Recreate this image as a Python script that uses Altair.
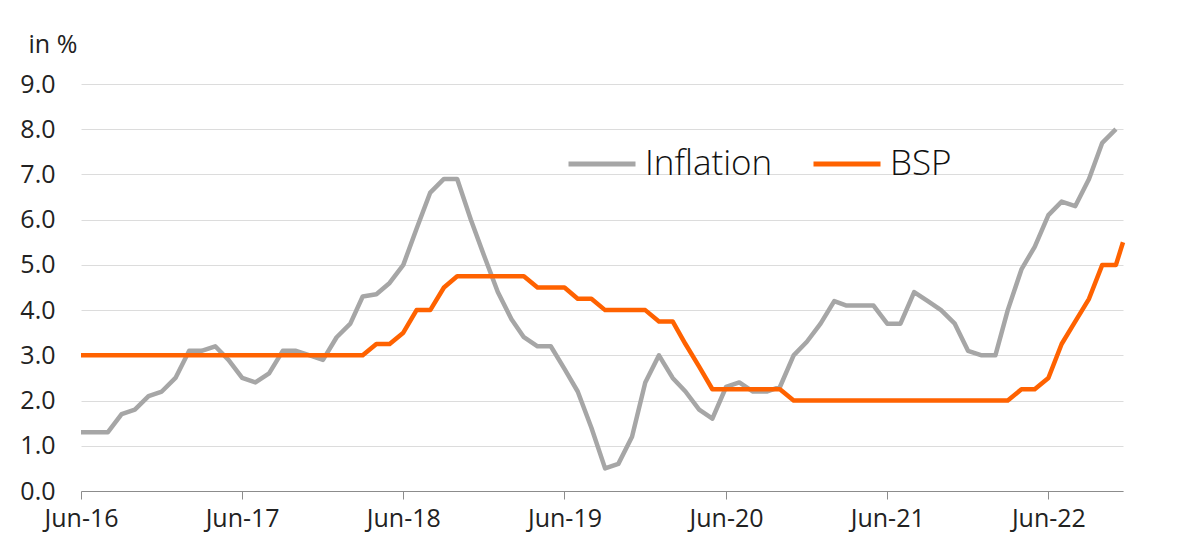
import altair as alt
import pandas as pd

# Monthly observations Jun-2016 .. Nov-2022
start_month = "2016-06-01"
n_months = 78

inflation = [
    1.3, 1.3, 1.3, 1.7, 1.8, 2.1, 2.2,            # Jun-16 .. Dec-16
    2.5, 3.1, 3.1, 3.2, 2.9, 2.5, 2.4, 2.6, 3.1, 3.1, 3.0, 2.9,   # 2017
    3.4, 3.7, 4.3, 4.35, 4.6, 5.0, 5.8, 6.6, 6.9, 6.9, 6.0, 5.2,  # 2018
    4.4, 3.8, 3.4, 3.2, 3.2, 2.7, 2.2, 1.4, 0.5, 0.6, 1.2, 2.4,   # 2019
    3.0, 2.5, 2.2, 1.8, 1.6, 2.3, 2.4, 2.2, 2.2, 2.3, 3.0, 3.3,   # 2020
    3.7, 4.2, 4.1, 4.1, 4.1, 3.7, 3.7, 4.4, 4.2, 4.0, 3.7, 3.1,   # 2021
    3.0, 3.0, 4.0, 4.9, 5.4, 6.1, 6.4, 6.3, 6.9, 7.7, 8.0,        # Jan-22 .. Nov-22
]

bsp = [
    3.0, 3.0, 3.0, 3.0, 3.0, 3.0, 3.0,
    3.0, 3.0, 3.0, 3.0, 3.0, 3.0, 3.0, 3.0, 3.0, 3.0, 3.0, 3.0,
    3.0, 3.0, 3.0, 3.25, 3.25, 3.5, 4.0, 4.0, 4.5, 4.75, 4.75, 4.75,
    4.75, 4.75, 4.75, 4.5, 4.5, 4.5, 4.25, 4.25, 4.0, 4.0, 4.0, 4.0,
    3.75, 3.75, 3.25, 2.75, 2.25, 2.25, 2.25, 2.25, 2.25, 2.25, 2.0, 2.0,
    2.0, 2.0, 2.0, 2.0, 2.0, 2.0, 2.0, 2.0, 2.0, 2.0, 2.0, 2.0,
    2.0, 2.0, 2.0, 2.25, 2.25, 2.5, 3.25, 3.75, 4.25, 5.0, 5.0,
]
bsp_last_date = "2022-11-17"
bsp_last_value = 5.5

x_tick_dates = ["2016-06-01", "2017-06-01", "2018-06-01", "2019-06-01",
                "2020-06-01", "2021-06-01", "2022-06-01"]
y_ticks = [0, 1, 2, 3, 4, 5, 6, 7, 8, 9]
x_end = "2022-11-17"

series_names = ["Inflation", "BSP"]
series_colors = ["#a6a6a6", "#ff6200"]

months = pd.date_range(start_month, periods=n_months, freq="MS")
df_inf = pd.DataFrame({"date": months, "value": inflation, "series": "Inflation"})
df_bsp = pd.DataFrame({
    "date": list(months) + [pd.Timestamp(bsp_last_date)],
    "value": bsp + [bsp_last_value],
    "series": "BSP",
})
df = pd.concat([df_inf, df_bsp], ignore_index=True)
df["date"] = df["date"].dt.strftime("%Y-%m-%dT%H:%M:%S")


def to_dt(s):
    t = pd.Timestamp(s)
    return alt.DateTime(year=t.year, month=t.month, date=t.day)


FONT = "Open Sans"

x_enc = alt.X(
    "date:T",
    scale=alt.Scale(domain=[to_dt(start_month), to_dt(x_end)]),
    axis=alt.Axis(
        values=[to_dt(d) for d in x_tick_dates],
        format="%b-%y",
        title=None,
        grid=False,
        domainColor="#8c8c8c",
        domainWidth=1,
        tickColor="#8c8c8c",
        tickSize=8,
        labelFontSize=25,
        labelFont=FONT,
        labelColor="#222222",
        labelPadding=7,
        labelFlush=False,
        labelOverlap=False,
    ),
)
y_enc = alt.Y(
    "value:Q",
    scale=alt.Scale(domain=[0, 9], nice=False, zero=True),
    axis=alt.Axis(
        values=y_ticks,
        format=".1f",
        title="in %",
        titleAngle=0,
        titleAlign="left",
        titleBaseline="alphabetic",
        titleX=-53,
        titleY=-32,
        titleFont=FONT,
        titleFontSize=25,
        titleFontWeight="normal",
        titleColor="#222222",
        domain=False,
        ticks=False,
        labelPadding=26,
        labelFontSize=25,
        labelFont=FONT,
        labelColor="#222222",
        grid=True,
        gridColor="#dcdcdc",
        gridWidth=1,
    ),
)
color_enc = alt.Color(
    "series:N",
    scale=alt.Scale(domain=series_names, range=series_colors),
    legend=alt.Legend(
        orient="none",
        legendX=485,
        legendY=44,
        direction="horizontal",
        title=None,
        symbolType="stroke",
        symbolSize=4489,
        symbolStrokeWidth=5,
        labelFontSize=35,
        labelFont=FONT,
        labelFontWeight=300,
        labelColor="#111111",
        labelOffset=7,
        columnPadding=30,
        padding=0,
    ),
)

base = alt.Chart(df)
gray_line = base.transform_filter(alt.datum.series == "Inflation").mark_line(
    strokeWidth=4.5, strokeJoin="round"
).encode(x=x_enc, y=y_enc, color=color_enc)
orange_line = base.transform_filter(alt.datum.series == "BSP").mark_line(
    strokeWidth=4.5, strokeJoin="round"
).encode(x=x_enc, y=y_enc, color=color_enc)

chart = alt.layer(gray_line, orange_line).properties(
    width=1042,
    height=407,
    autosize=alt.AutoSizeParams(type="none"),
    padding={"left": 81, "top": 84, "right": 77, "bottom": 62},
    background="white",
).configure_view(stroke=None)

chart.save("out.html", embed_options={"renderer": "svg", "actions": False})
